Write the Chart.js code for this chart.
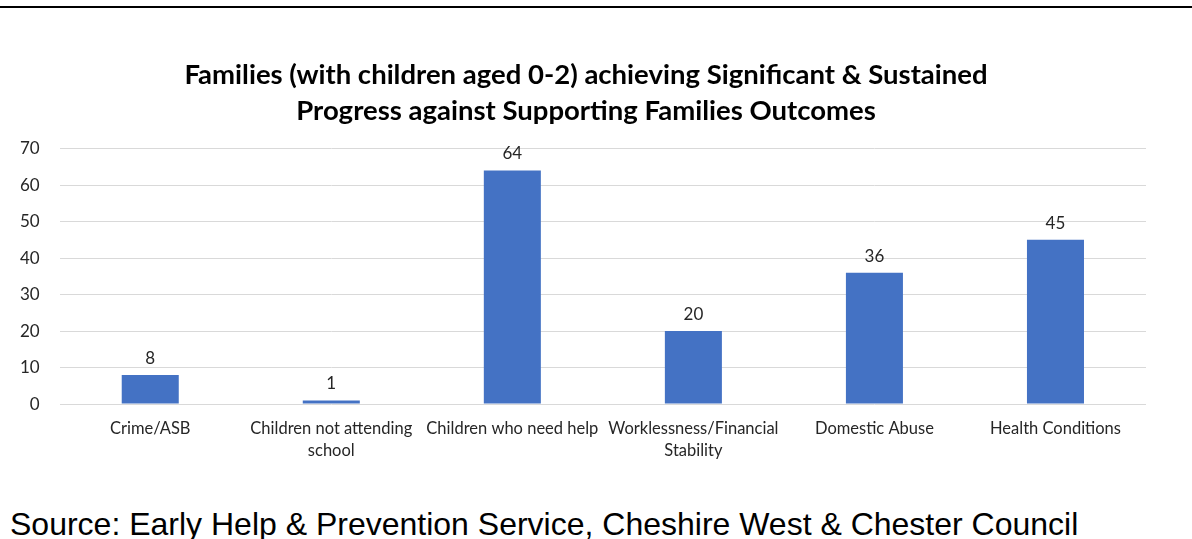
<!DOCTYPE html>
<html>
<head>
<meta charset="utf-8">
<script src="https://cdn.jsdelivr.net/npm/chart.js@4.4.1/dist/chart.umd.min.js"></script>
<style>
  html, body { margin: 0; padding: 0; background: #fff; }
  body { width: 1192px; height: 539px; position: relative; overflow: hidden; }
  .top-rule { position: absolute; left: 0; top: 6px; width: 1192px; height: 2px; background: #000; }
  .chart-box { position: absolute; left: 0; top: 10px; width: 1192px; height: 470px; }
  .source { position: absolute; left: 10px; top: 506px; font-family: "Liberation Sans", Arial, sans-serif; font-size: 32px; color: #000; white-space: nowrap; }
</style>
</head>
<body>
<div class="top-rule"></div>
<div class="chart-box"><canvas id="outcomeChart"></canvas></div>
<div class="source">Source: Early Help &amp; Prevention Service, Cheshire West &amp; Chester Council</div>

<script>
const categories = [
    "Crime/ASB",
    ["Children not attending", "school"],
    "Children who need help",
    ["Worklessness/Financial", "Stability"],
    "Domestic Abuse",
    "Health Conditions"
];
const familyCounts = [8, 1, 64, 20, 36, 45];
const yTicks = [0, 10, 20, 30, 40, 50, 60, 70];

const titleLines = [
    "Families (with children aged 0-2) achieving Significant & Sustained",
    "Progress against Supporting Families Outcomes"
];

const FONT = 'Lato, "Open Sans", sans-serif';

// writes each bar's value just above its top
const valueLabels = {
    id: 'valueLabels',
    afterDatasetsDraw(chart) {
        const ctx = chart.ctx;
        const meta = chart.getDatasetMeta(0);
        ctx.save();
        ctx.font = '17px ' + FONT;
        ctx.fillStyle = '#262626';
        ctx.textAlign = 'center';
        ctx.textBaseline = 'bottom';
        meta.data.forEach((bar, i) => {
            ctx.fillText(String(chart.data.datasets[0].data[i]), bar.x, bar.y - 8);
        });
        ctx.restore();
    }
};

function renderOutcomeChart() {
    const ctx = document.getElementById('outcomeChart').getContext('2d');
    new Chart(ctx, {
        type: 'bar',
        data: {
            labels: categories,
            datasets: [{
                data: familyCounts,
                backgroundColor: '#4472C4',
                borderWidth: 0,
                categoryPercentage: 1,
                barPercentage: 0.315
            }]
        },
        options: {
            responsive: true,
            maintainAspectRatio: false,
            animation: false,
            layout: { padding: { left: 0, right: 20, top: 47, bottom: 12 } },
            scales: {
                x: {
                    grid: { display: false },
                    border: { display: false },
                    ticks: {
                        color: '#262626',
                        font: { family: FONT, size: 16.5, lineHeight: 1.33 },
                        maxRotation: 0,
                        autoSkip: false,
                        padding: 6
                    }
                },
                y: {
                    min: 0,
                    max: 70,
                    afterBuildTicks(axis) { axis.ticks = yTicks.map(v => ({ value: v })); },
                    grid: { color: '#d9d9d9', lineWidth: 1, drawTicks: false },
                    border: { display: false },
                    ticks: {
                        color: '#262626',
                        font: { family: FONT, size: 17 },
                        padding: 20
                    }
                },
                // empty right-hand margin so the title sits a little right of the plot centre
                yRight: {
                    position: 'right',
                    grid: { display: false },
                    border: { display: false },
                    ticks: { display: false },
                    afterFit(axis) { axis.width = 26; }
                }
            },
            plugins: {
                legend: { display: false },
                tooltip: { enabled: false },
                title: {
                    display: true,
                    text: titleLines,
                    color: '#000',
                    font: { family: FONT, size: 27.5, weight: 'bold', lineHeight: 1.3 },
                    padding: { top: 0, bottom: 20 }
                }
            }
        },
        plugins: [valueLabels]
    });
}

document.addEventListener("DOMContentLoaded", renderOutcomeChart);
</script>
</body>
</html>
